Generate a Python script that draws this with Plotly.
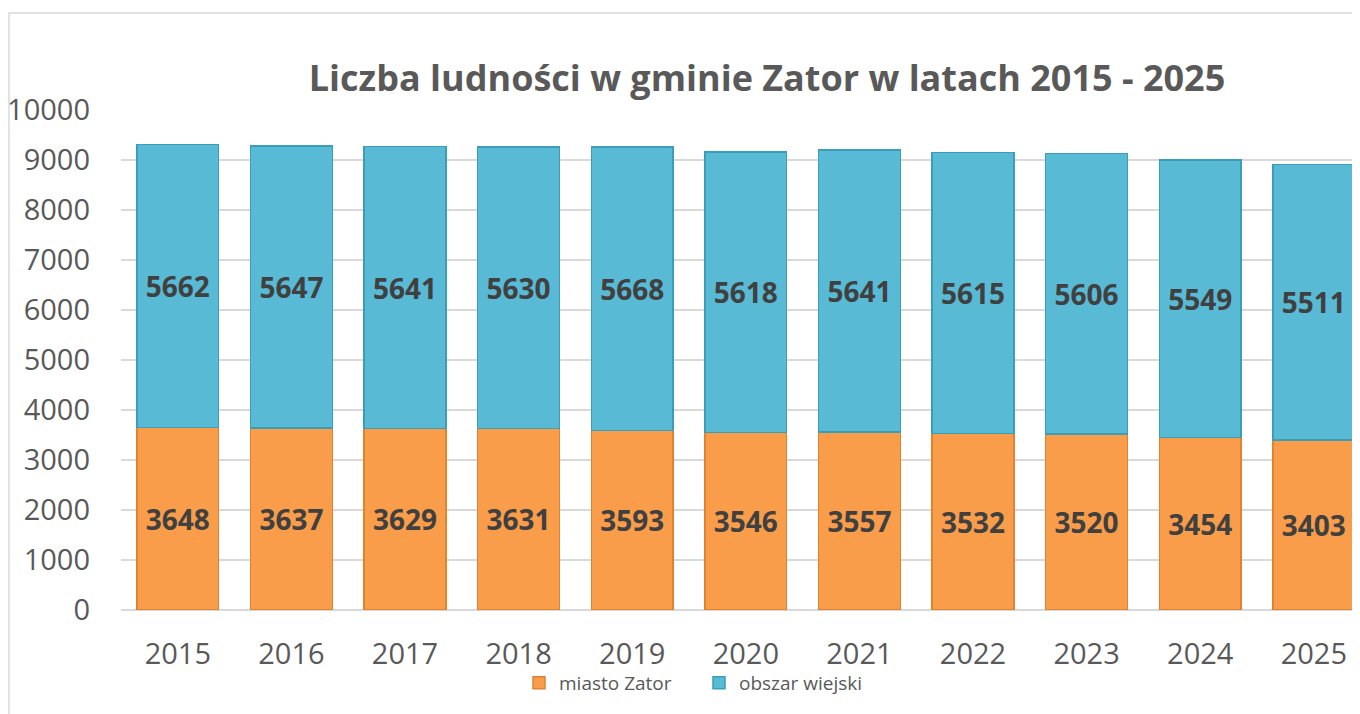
import plotly.graph_objects as go

years = ["2015", "2016", "2017", "2018", "2019", "2020", "2021", "2022", "2023", "2024", "2025"]
miasto = [3648, 3637, 3629, 3631, 3593, 3546, 3557, 3532, 3520, 3454, 3403]
wiejski = [5662, 5647, 5641, 5630, 5668, 5618, 5641, 5615, 5606, 5549, 5511]
y_ticks = [0, 1000, 2000, 3000, 4000, 5000, 6000, 7000, 8000, 9000, 10000]

W, H = 1360, 714
# the page places the figure 8 px in from the top-left corner
L, R, T, B = 113, 0, 102, 112

fig = go.Figure()
fig.add_trace(go.Bar(
    x=years, y=miasto, name="miasto Zator",
    marker=dict(color="#F99D4A", line=dict(color="#E0822E", width=1.5)),
    text=[str(v) for v in miasto], textposition="inside", insidetextanchor="middle",
    textfont=dict(family="Open Sans", size=28, color="#404040", weight="bold"),
    textangle=0,
))
fig.add_trace(go.Bar(
    x=years, y=wiejski, name="obszar wiejski",
    marker=dict(color="#58BAD5", line=dict(color="#3C9DB8", width=1.5)),
    text=[str(v) for v in wiejski], textposition="inside", insidetextanchor="middle",
    textfont=dict(family="Open Sans", size=28, color="#404040", weight="bold"),
    textangle=0,
))

plot_w = W - L - R
cat_px = 113.6
x_right = -0.5 + plot_w / cat_px

fig.update_layout(
    width=W, height=H,
    margin=dict(l=L, r=R, t=T, b=B, autoexpand=False),
    barmode="stack", bargap=0.28,
    plot_bgcolor="white", paper_bgcolor="white",
    font=dict(family="Open Sans", color="#595959"),
    title=dict(
        text="<b>Liczba ludności w gminie Zator w latach 2015 - 2025</b>",
        font=dict(family="Open Sans", size=36, color="#595959"),
        xref="container", yref="container", x=759 / W, y=1 - 70 / H,
        xanchor="center", yanchor="middle",
    ),
    xaxis=dict(
        type="category", range=[-0.5, x_right],
        showgrid=False, showline=False, zeroline=False,
        tickfont=dict(family="Open Sans", size=29, color="#595959"),
        ticklabelstandoff=24,
    ),
    yaxis=dict(
        range=[0, 10000], tickvals=y_ticks, ticktext=[str(v) for v in y_ticks],
        showgrid=True, gridcolor="#D9D9D9", gridwidth=1.5,
        zeroline=True, zerolinecolor="#D9D9D9", zerolinewidth=1.5,
        showline=False,
        tickfont=dict(family="Open Sans", size=29, color="#595959"),
        ticklabelstandoff=30,
    ),
    legend=dict(
        orientation="h", xref="container", yref="container",
        x=691 / W, y=1 - 675 / H, xanchor="center", yanchor="middle",
        font=dict(family="Open Sans", size=19, color="#595959"),
        itemwidth=30, traceorder="normal",
        entrywidth=135, entrywidthmode="pixels",
    ),
    shapes=[dict(
        type="rect", xref="paper", yref="paper",
        x0=(1 - L) / plot_w, x1=1.02, y0=-0.3, y1=(602 - 5) / 500,
        line=dict(color="#D9D9D9", width=1.5), fillcolor="rgba(0,0,0,0)",
        layer="below",
    )],
)

fig.write_html("out.html")
